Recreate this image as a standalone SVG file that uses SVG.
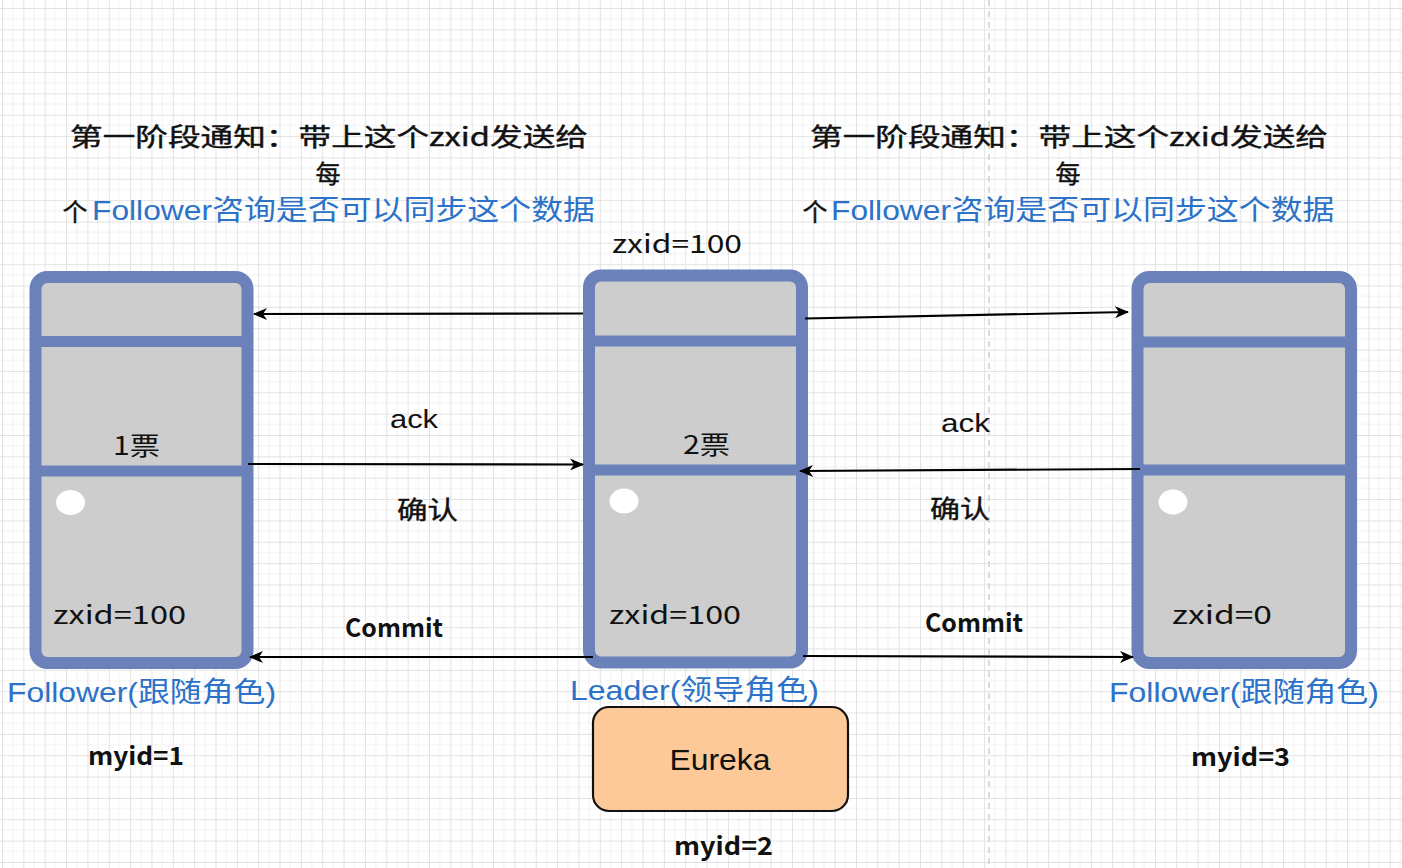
<svg xmlns="http://www.w3.org/2000/svg" width="1402" height="868" viewBox="0 0 1402 868">
<defs>
<pattern id="grid" patternUnits="userSpaceOnUse" x="2" y="8" width="21.35" height="21.35">
<path d="M10.67 0 V21.35 M0 10.67 H21.35" stroke="#f1f1f1" stroke-width="1" fill="none"/>
<path d="M0.5 0 V21.35 M0 0.5 H21.35" stroke="#e2e2e2" stroke-width="1" fill="none"/>
</pattern>
<marker id="arr" viewBox="0 0 14 12" refX="13" refY="6" markerWidth="14" markerHeight="12" markerUnits="userSpaceOnUse" orient="auto">
<path d="M0,0 L14,6 L0,12 L4,6 z" fill="#000"/>
</marker>
<style>
.srv{fill:#cdcdcd;stroke:#6b81b9;stroke-width:12}
.div{stroke:#6b81b9;stroke-width:11}
.dot{fill:#fff}
.cn{stroke:#000;stroke-width:2.2;fill:none;marker-end:url(#arr)}
.kai{font-family:"Noto Sans CJK SC",sans-serif;font-size:25px;fill:#111;font-weight:400;stroke:#111;stroke-width:0.4}
.blue{font-family:"Liberation Sans","Noto Sans CJK SC",sans-serif;font-size:28px;fill:#2b72c8}
.lbl{font-family:"Liberation Sans","Noto Sans CJK SC",sans-serif;font-size:25px;fill:#111}
.mono{font-family:"Noto Sans CJK SC",sans-serif;font-size:25px;fill:#111;font-weight:400}
.bold{font-weight:700}
</style>
</defs>
<rect width="1402" height="868" fill="#ffffff"/>
<rect width="1402" height="868" fill="url(#grid)"/>
<line x1="989" y1="0" x2="989" y2="868" stroke="#cfcfcf" stroke-width="1.5" stroke-dasharray="6,5"/>

<g id="title-left" dominant-baseline="central" text-anchor="middle">
<text class="kai" x="329" y="135" textLength="518" lengthAdjust="spacingAndGlyphs">第一阶段通知：带上这个zxid发送给</text>
<text class="kai" x="328" y="172">每</text>
<text class="kai" x="75" y="210" font-size="28">个</text>
<text class="blue" x="152" y="210" textLength="120" lengthAdjust="spacingAndGlyphs">Follower</text>
<text class="blue" x="403.5" y="210" textLength="383" lengthAdjust="spacingAndGlyphs">咨询是否可以同步这个数据</text>
</g>
<g id="title-right" dominant-baseline="central" text-anchor="middle">
<text class="kai" x="1069" y="135" textLength="518" lengthAdjust="spacingAndGlyphs">第一阶段通知：带上这个zxid发送给</text>
<text class="kai" x="1068" y="172">每</text>
<text class="kai" x="815" y="210" font-size="28">个</text>
<text class="blue" x="891" y="210" textLength="120" lengthAdjust="spacingAndGlyphs">Follower</text>
<text class="blue" x="1143" y="210" textLength="383" lengthAdjust="spacingAndGlyphs">咨询是否可以同步这个数据</text>
</g>

<g id="follower1">
<rect class="srv" x="35.5" y="277" width="212" height="386" rx="12"/>
<line class="div" x1="35.5" y1="341.5" x2="247.5" y2="341.5"/>
<line class="div" x1="35.5" y1="471" x2="247.5" y2="471"/>
<ellipse class="dot" cx="70.5" cy="502.5" rx="14.5" ry="12.5"/>
<text class="mono" x="136.5" y="444" text-anchor="middle" dominant-baseline="central" textLength="47" lengthAdjust="spacingAndGlyphs">1票</text>
<text class="mono" x="119.5" y="613" text-anchor="middle" dominant-baseline="central" textLength="133" lengthAdjust="spacingAndGlyphs">zxid=100</text>
<text class="blue" x="141.5" y="692" text-anchor="middle" dominant-baseline="central" textLength="269" lengthAdjust="spacingAndGlyphs">Follower(跟随角色)</text>
<text class="mono bold" x="136" y="754" text-anchor="middle" dominant-baseline="central" font-size="24" textLength="96" lengthAdjust="spacingAndGlyphs">myid=1</text>
</g>

<g id="leader">
<rect class="srv" x="589" y="275.5" width="213" height="387" rx="12"/>
<line class="div" x1="589" y1="341" x2="802" y2="341"/>
<line class="div" x1="589" y1="470" x2="802" y2="470"/>
<ellipse class="dot" cx="624" cy="501" rx="14.5" ry="12.5"/>
<text class="mono" x="677" y="242" text-anchor="middle" dominant-baseline="central" textLength="130" lengthAdjust="spacingAndGlyphs">zxid=100</text>
<text class="mono" x="706.5" y="443" text-anchor="middle" dominant-baseline="central" textLength="47" lengthAdjust="spacingAndGlyphs">2票</text>
<text class="mono" x="675" y="613" text-anchor="middle" dominant-baseline="central" textLength="132" lengthAdjust="spacingAndGlyphs">zxid=100</text>
<text class="blue" x="694.5" y="690" text-anchor="middle" dominant-baseline="central" textLength="249" lengthAdjust="spacingAndGlyphs">Leader(领导角色)</text>
<text class="mono bold" x="723.5" y="844" text-anchor="middle" dominant-baseline="central" font-size="24" textLength="99" lengthAdjust="spacingAndGlyphs">myid=2</text>
</g>

<g id="eureka">
<rect x="593" y="707" width="255" height="104" rx="16" fill="#fdc998" stroke="#111" stroke-width="2.2"/>
<text x="720" y="759" text-anchor="middle" dominant-baseline="central" font-family="'Liberation Sans',sans-serif" font-size="30" fill="#111" textLength="101" lengthAdjust="spacingAndGlyphs">Eureka</text>
</g>

<g id="follower3">
<rect class="srv" x="1137.5" y="277" width="213.5" height="386" rx="12"/>
<line class="div" x1="1137.5" y1="342" x2="1351" y2="342"/>
<line class="div" x1="1137.5" y1="470" x2="1351" y2="470"/>
<ellipse class="dot" cx="1173" cy="502" rx="14.5" ry="12.5"/>
<text class="mono" x="1222" y="613" text-anchor="middle" dominant-baseline="central" textLength="100" lengthAdjust="spacingAndGlyphs">zxid=0</text>
<text class="blue" x="1244" y="692" text-anchor="middle" dominant-baseline="central" textLength="270" lengthAdjust="spacingAndGlyphs">Follower(跟随角色)</text>
<text class="mono bold" x="1240.5" y="755" text-anchor="middle" dominant-baseline="central" font-size="24" textLength="99" lengthAdjust="spacingAndGlyphs">myid=3</text>
</g>

<g id="connectors">
<line class="cn" x1="583" y1="313.5" x2="254" y2="314"/>
<line class="cn" x1="248" y1="464" x2="583" y2="464.5"/>
<line class="cn" x1="805" y1="318.5" x2="1128" y2="312"/>
<line class="cn" x1="1140" y1="469" x2="800" y2="471"/>
<line class="cn" x1="593" y1="657" x2="250" y2="657"/>
<line class="cn" x1="803" y1="656" x2="1133" y2="657"/>
</g>

<g id="connector-labels" dominant-baseline="central" text-anchor="middle">
<text class="lbl" x="414" y="419" textLength="48" lengthAdjust="spacingAndGlyphs">ack</text>
<text class="lbl" x="965.5" y="423" textLength="49" lengthAdjust="spacingAndGlyphs">ack</text>
<text class="kai" x="427.5" y="508" textLength="61" lengthAdjust="spacingAndGlyphs">确认</text>
<text class="kai" x="960" y="507" textLength="60" lengthAdjust="spacingAndGlyphs">确认</text>
<text class="mono bold" x="394" y="626" textLength="98" lengthAdjust="spacingAndGlyphs">Commit</text>
<text class="mono bold" x="974" y="621" textLength="98" lengthAdjust="spacingAndGlyphs">Commit</text>
</g>
</svg>
